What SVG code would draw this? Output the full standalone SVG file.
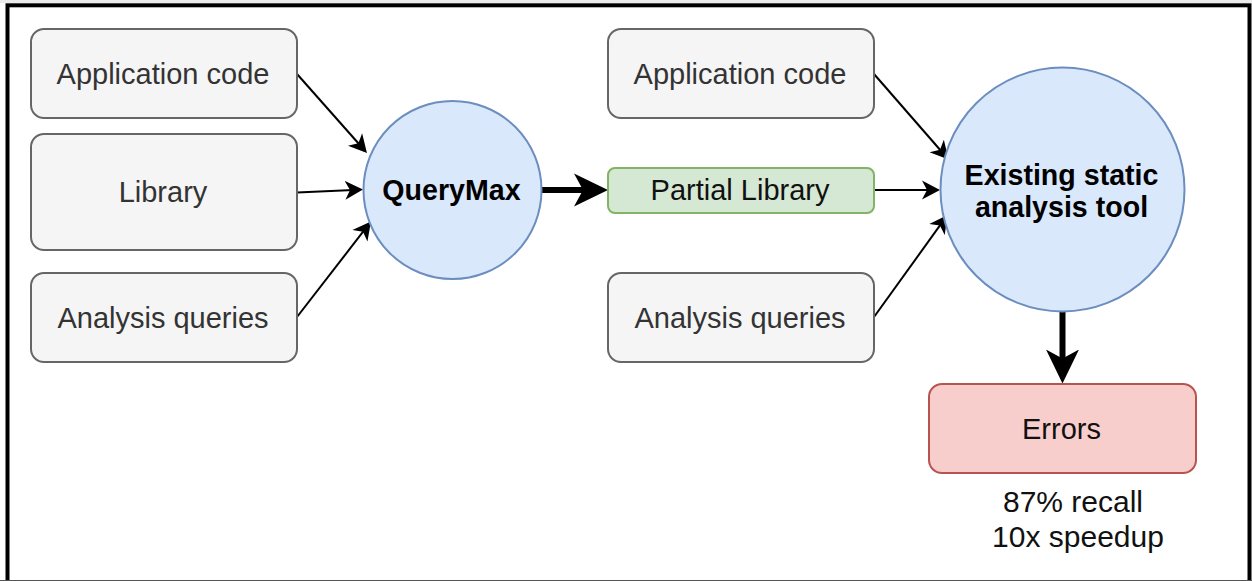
<svg xmlns="http://www.w3.org/2000/svg" width="1252" height="581" viewBox="0 0 1252 581">
  <defs>
    <style>
      .lbl { font-family: "Liberation Sans", Arial, sans-serif; font-size: 29px; text-anchor: middle; }
      .bold { font-weight: bold; fill: #000000; font-size: 28.6px; }
      .input rect { fill: #f5f5f5; stroke: #666666; stroke-width: 2; }
      .input text { fill: #333333; }
      .proc circle { fill: #dae8fc; stroke: #6c8ebf; stroke-width: 2; }
      .partial rect { fill: #d5e8d4; stroke: #82b366; stroke-width: 2; }
      .errors rect { fill: #f8cecc; stroke: #b85450; stroke-width: 2; }
      .dark { fill: #111111; }
      .thin { stroke: #000000; stroke-width: 2; fill: none; marker-end: url(#head-thin); }
      .thick { stroke: #000000; stroke-width: 6; fill: none; marker-end: url(#head-thick); }
    </style>
    <marker id="head-thin" markerUnits="userSpaceOnUse" viewBox="0 0 18 20" markerWidth="18" markerHeight="20" refX="14" refY="10" orient="auto">
      <path d="M0,0.5 L18,10 L0,19.5 L5,10 Z" fill="#000000"/>
    </marker>
    <marker id="head-thick" markerUnits="userSpaceOnUse" viewBox="0 0 34 34" markerWidth="34" markerHeight="34" refX="26" refY="17" orient="auto">
      <path d="M0,0.5 L34,17 L0,33.5 L9,17 Z" fill="#000000"/>
    </marker>
  </defs>

  <!-- canvas and frame -->
  <rect x="0" y="0" width="1252" height="581" fill="#ffffff"/>
  <rect x="0" y="0" width="1252" height="3" fill="#ececec"/>
  <rect x="7.5" y="5.3" width="1242" height="600" fill="none" stroke="#000000" stroke-width="4"/>
  <line x1="0" y1="580.5" x2="1252" y2="580.5" stroke="#555555" stroke-width="1"/>

  <!-- connectors -->
  <g id="connectors">
    <line class="thin" x1="297" y1="74" x2="364.3" y2="150"/>
    <line class="thin" x1="297" y1="192.5" x2="359" y2="189.7"/>
    <line class="thin" x1="297" y1="317" x2="368.5" y2="224.7"/>
    <line class="thick" x1="541.5" y1="190" x2="600" y2="190"/>
    <line class="thin" x1="874" y1="74" x2="945.9" y2="156.5"/>
    <line class="thin" x1="874" y1="190" x2="936" y2="190"/>
    <line class="thin" x1="874" y1="317" x2="945.2" y2="218.2"/>
    <line class="thick" x1="1062.5" y1="312" x2="1062.5" y2="375.5"/>
  </g>

  <!-- inputs to QueryMax -->
  <g id="app-code-1" class="input">
    <rect x="31" y="29" width="266" height="89" rx="13" ry="13"/>
    <text class="lbl" x="163" y="83.5">Application code</text>
  </g>
  <g id="library" class="input">
    <rect x="31" y="134" width="266" height="116" rx="13" ry="13"/>
    <text class="lbl" x="163" y="202">Library</text>
  </g>
  <g id="queries-1" class="input">
    <rect x="31" y="273" width="266" height="89" rx="13" ry="13"/>
    <text class="lbl" x="163" y="327.5">Analysis queries</text>
  </g>

  <!-- QueryMax -->
  <g id="querymax" class="proc">
    <circle cx="452.5" cy="190" r="89"/>
    <text class="lbl bold" x="451.5" y="200">QueryMax</text>
  </g>

  <!-- inputs to the existing tool -->
  <g id="app-code-2" class="input">
    <rect x="608" y="29" width="266" height="89" rx="13" ry="13"/>
    <text class="lbl" x="740" y="83.5">Application code</text>
  </g>
  <g id="partial-library" class="partial">
    <rect x="608" y="168" width="266" height="45" rx="7" ry="7"/>
    <text class="lbl dark" x="740" y="200">Partial Library</text>
  </g>
  <g id="queries-2" class="input">
    <rect x="608" y="273" width="266" height="89" rx="13" ry="13"/>
    <text class="lbl" x="740" y="327.5">Analysis queries</text>
  </g>

  <!-- existing static analysis tool -->
  <g id="static-tool" class="proc">
    <circle cx="1062.5" cy="189.5" r="122"/>
    <text class="lbl bold" x="1061.5" y="185">Existing static</text>
    <text class="lbl bold" x="1061.5" y="217">analysis tool</text>
  </g>

  <!-- result -->
  <g id="errors" class="errors">
    <rect x="929" y="384" width="267" height="89" rx="13" ry="13"/>
    <text class="lbl dark" x="1061.5" y="438.5">Errors</text>
  </g>
  <g id="results-note">
    <text class="lbl dark" x="1073" y="512" style="font-size:30px">87% recall</text>
    <text class="lbl dark" x="1078" y="547" style="font-size:30px">10x speedup</text>
  </g>
</svg>
